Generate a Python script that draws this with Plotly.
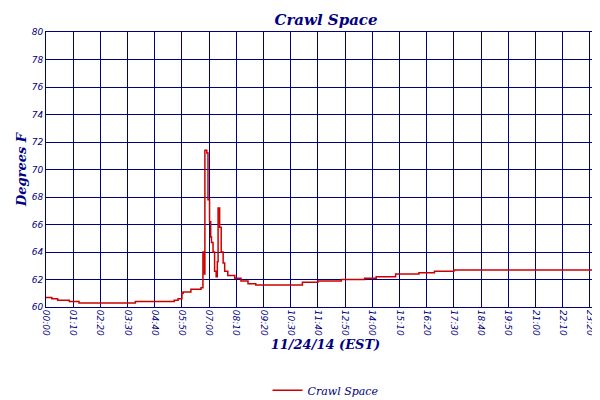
import plotly.graph_objects as go

minutes = [0, 15, 30, 60, 85, 230, 330, 340, 350, 353, 373, 399, 404, 408, 409, 414, 417, 421, 424, 426, 430, 434, 438, 441, 443, 447, 451, 456, 460, 468, 486, 502, 520, 540, 600, 660, 700, 760, 820, 850, 900, 960, 1000, 1050, 1439]
temps = [60.7, 60.6, 60.5, 60.4, 60.3, 60.4, 60.5, 60.6, 61.0, 61.1, 61.3, 61.4, 64.0, 62.4, 71.4, 71.2, 67.8, 66.2, 65.1, 64.7, 64.0, 62.6, 62.2, 63.3, 67.2, 65.8, 64.0, 63.2, 62.6, 62.3, 62.1, 61.9, 61.7, 61.6, 61.6, 61.8, 61.9, 62.0, 62.1, 62.2, 62.4, 62.5, 62.6, 62.7, 62.7]
tick_vals = list(range(0, 1401, 70)) + [1439]
tick_text = [f"{v//60:02d}:{v%60:02d}" for v in tick_vals]

navy = "#000080"
fig = go.Figure(go.Scatter(x=minutes, y=temps, mode="lines", line=dict(color="#cc0000", width=1.5, shape="hv"), name="Crawl Space"))
fig.update_layout(
    width=600, height=400, margin=dict(l=38, r=3, t=24, b=77),
    paper_bgcolor="white", plot_bgcolor="white",
    title=dict(text="<b>Crawl Space</b>", x=0.53, y=0.985, yanchor="top", automargin=False, font=dict(family="DejaVu Serif", size=15, color=navy, style="italic")),
    font=dict(family="DejaVu Sans", color=navy, style="italic"),
    showlegend=True,
    legend=dict(orientation="h", x=0.5, xanchor="center", y=-0.25, yanchor="top", font=dict(size=11, family="DejaVu Serif", style="italic")),
    xaxis=dict(range=[0, 1439], tickvals=tick_vals, ticktext=tick_text, tickangle=90, tickfont=dict(size=9), automargin=False,
               showgrid=True, gridcolor=navy, gridwidth=1, showline=True, linecolor=navy, mirror=True, zeroline=False,
               title=dict(text="<b>11/24/14 (EST)</b>", font=dict(size=13, family="DejaVu Serif", style="italic"), standoff=4)),
    yaxis=dict(range=[60, 80], dtick=2, tickfont=dict(size=9), showgrid=True, gridcolor=navy, gridwidth=1, automargin=False,
               showline=True, linecolor=navy, mirror=True, zeroline=False,
               title=dict(text="<b>Degrees F</b>", font=dict(size=13, family="DejaVu Serif", style="italic"), standoff=2)),
)
fig.write_html("out.html")
